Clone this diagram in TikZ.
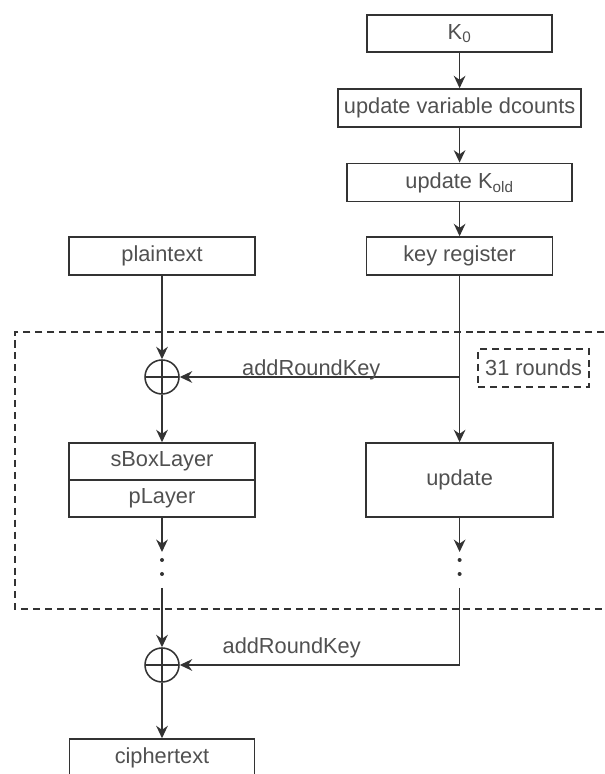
\documentclass[tikz,border=0pt]{standalone}
\usepackage{fontspec}
\setmainfont{Liberation Sans}
\usepackage{tikz}
\usetikzlibrary{arrows.meta}
\definecolor{linegray}{HTML}{333333}
\definecolor{textgray}{HTML}{505050}
\tikzset{
    every node/.style={font=\fontsize{15.5}{18}\selectfont, text=textgray}
}
\tikzset{
    block/.style={rectangle, draw=linegray, line width=1.1pt, inner sep=0pt,
    	minimum height=0.925cm}
}
\tikzset{
    xorop/.style={circle, draw=linegray, line width=1.1pt, minimum size=0.85cm,
    	inner sep=0pt, path picture={
    	\draw[linegray, line width=1.1pt]
    	(path picture bounding box.north) -- (path picture bounding box.south)
    	(path picture bounding box.west) -- (path picture bounding box.east);}}
}
\tikzset{
    flow/.style={draw=linegray, line width=1.1pt,
    	-{Stealth[length=0.31cm, width=0.29cm]}}
}
\tikzset{
    roundframe/.style={draw=linegray, line width=1pt, dash pattern=on 5pt off 3.5pt}
}

\begin{document}
\begin{tikzpicture}
	\useasboundingbox (0cm, 0cm) rectangle (15.1cm, 19.35cm);
	% key schedule
	\node (k0) [block, minimum width=4.625cm] at (11.49cm, 18.51cm) {K\textsubscript{0}};
	\node (dcnt) [block, minimum width=6.075cm, minimum height=0.95cm] at (11.49cm, 16.65cm) {update variable dcounts};
	\node (kold) [block, minimum width=5.625cm, minimum height=0.95cm] at (11.49cm, 14.79cm) {update K\textsubscript{old}};
	\node (keyreg) [block, minimum width=4.65cm, minimum height=0.95cm] at (11.49cm, 12.95cm) {key register};
	\node (upd) [block, minimum width=4.675cm, minimum height=1.85cm] at (11.49cm, 7.35cm) {update};
	% data path
	\node (plain) [block, minimum width=4.65cm, minimum height=0.95cm] at (4.05cm, 12.95cm) {plaintext};
	\node (xor1) [xorop] at (4.05cm, 9.925cm) {};
	\node (sbox) [block, minimum width=4.65cm] at (4.05cm, 7.8125cm) {sBoxLayer};
	\node (play) [block, minimum width=4.65cm] at (4.05cm, 6.8875cm) {pLayer};
	\node (xor2) [xorop] at (4.05cm, 2.725cm) {};
	\node (cipher) [block, minimum width=4.625cm] at (4.05cm, 0.4125cm) {ciphertext};
	\node (rounds) [block, roundframe, minimum width=2.775cm, minimum height=0.95cm] at (13.34cm, 10.15cm) {31 rounds};

	\coordinate (tap) at (11.49cm, 9.925cm);
	\coordinate (la) at (4.05cm, 5.55cm);
	\coordinate (lb) at (4.05cm, 4.65cm);
	\coordinate (ra) at (11.49cm, 5.55cm);
	\coordinate (rb) at (11.49cm, 4.65cm);

	% round frame, open to the right
	\draw[roundframe] (15.1cm, 11.05cm) -- (0.375cm, 11.05cm) -- (0.375cm, 4.125cm) -- (15.1cm, 4.125cm);

	\draw[flow] (k0) -- (dcnt);
	\draw[flow] (dcnt) -- (kold);
	\draw[flow] (kold) -- (keyreg);
	\draw[flow] (keyreg) -- (upd);
	\draw[flow] (tap) -- node[pos=0.53, anchor=base, yshift=1pt] {addRoundKey} (xor1);
	\draw[flow] (plain) -- (xor1);
	\draw[flow] (xor1) -- (sbox);
	\draw[flow] (play) -- (la);
	\draw[flow] (upd) -- (ra);
	\fill[linegray] (4.05cm, 5.35cm) circle (0.05cm) (4.05cm, 5.0cm) circle (0.05cm);
	\fill[linegray] (11.49cm, 5.35cm) circle (0.05cm) (11.49cm, 5.0cm) circle (0.05cm);
	\draw[flow] (lb) -- (xor2);
	\draw[flow] (rb) |- node[pos=0.8, anchor=base, yshift=0.275cm] {addRoundKey} (xor2);
	\draw[flow] (xor2) -- (cipher);
\end{tikzpicture}
\end{document}
